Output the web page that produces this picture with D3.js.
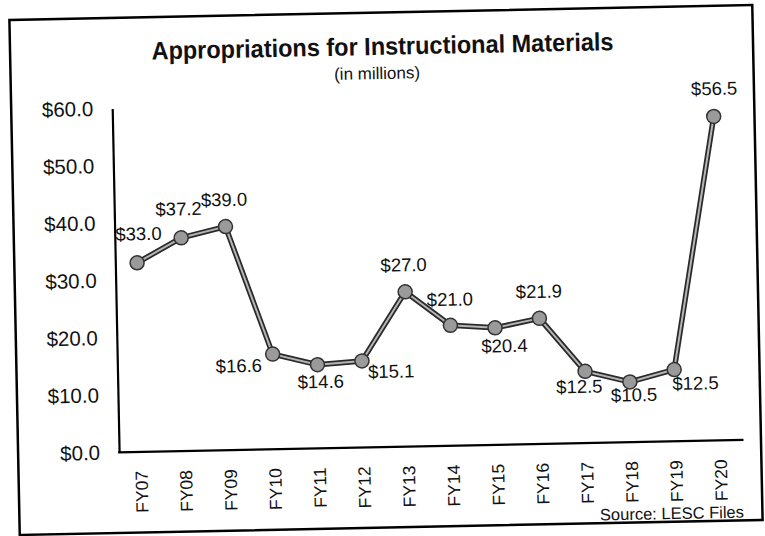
<!DOCTYPE html>
<html>
<head>
<meta charset="utf-8">
<script src="https://cdn.jsdelivr.net/npm/d3@7"></script>
<style>
  html, body { margin: 0; padding: 0; background: #fff; }
  svg { display: block; }
  text { font-family: "Liberation Sans", Arial, sans-serif; fill: #111; }
</style>
</head>
<body>
<svg id="chart" width="765" height="536"></svg>
<script>
// ---- data ----
const categories = ["FY07","FY08","FY09","FY10","FY11","FY12","FY13","FY14","FY15","FY16","FY17","FY18","FY19","FY20"];
const values = [33.0, 37.2, 39.0, 16.6, 14.6, 15.1, 27.0, 21.0, 20.4, 21.9, 12.5, 10.5, 12.5, 56.5];
const yTicks = [0, 10, 20, 30, 40, 50, 60];
const titleText = "Appropriations for Instructional Materials";
const subtitleText = "(in millions)";
const sourceText = "Source: LESC Files";

// ---- layout (label offsets relative to each point, in px) ----
const labelOffsets = [[2,-29],[-2,-29],[-1,-27],[-34,11],[3,17],[29,11],[-1,-27],[0,-26],[9,18],[0,-27],[-6,15],[4,13],[21,14],[1,-28]];

const svg = d3.select("#chart");
svg.append("rect").attr("width", 765).attr("height", 536).attr("fill", "#fff");

// the scanned original is tilted slightly
const g = svg.append("g").attr("transform", "rotate(-1.15, 386, 270)");

// frame
g.append("rect")
  .attr("x", 14.5).attr("y", 12.5).attr("width", 743).attr("height", 515)
  .attr("fill", "none").attr("stroke", "#000").attr("stroke-width", 2.5);

const x = d3.scaleBand().domain(categories).range([115, 739]).paddingInner(0).paddingOuter(0);
const y = d3.scaleLinear().domain([0, 60]).range([447, 103]);
const cx = d => x(d) + x.bandwidth() / 2;

// y axis
const yAxis = g.append("g").attr("transform", "translate(115.5,0)")
  .call(d3.axisLeft(y).tickValues(yTicks).tickSize(0).tickSizeOuter(0).tickPadding(19)
        .tickFormat(d => "$" + d.toFixed(1)));
yAxis.select(".domain").attr("stroke", "#000").attr("stroke-width", 2.2);
yAxis.selectAll("text").style("font-size", "20.5px").style("font-family", "Liberation Sans, Arial, sans-serif").attr("fill", "#111");

// x axis
const xAxis = g.append("g").attr("transform", "translate(0,447)")
  .call(d3.axisBottom(x).tickSize(0).tickSizeOuter(0));
xAxis.select(".domain").remove();
xAxis.selectAll("text")
  .attr("transform", "rotate(-90)")
  .attr("x", -19).attr("y", 0).attr("dy", "0.36em")
  .style("text-anchor", "end")
  .style("font-size", "17.5px").style("font-family", "Liberation Sans, Arial, sans-serif").attr("fill", "#111");
g.append("line").attr("x1", 114.5).attr("x2", 740).attr("y1", 447).attr("y2", 447)
  .attr("stroke", "#000").attr("stroke-width", 2.2);

// line
const line = d3.line().x((d, i) => cx(categories[i])).y(d => y(d));
g.append("path").datum(values).attr("d", line)
  .attr("fill", "none").attr("stroke", "#2a2a2a").attr("stroke-width", 5.5).attr("stroke-linejoin", "round");
g.append("path").datum(values).attr("d", line)
  .attr("fill", "none").attr("stroke", "#b5b5b5").attr("stroke-width", 2).attr("stroke-linejoin", "round");

// markers
g.selectAll("circle.pt").data(values).enter().append("circle")
  .attr("class", "pt")
  .attr("cx", (d, i) => cx(categories[i])).attr("cy", d => y(d)).attr("r", 7)
  .attr("fill", "#9a9a9a").attr("stroke", "#333").attr("stroke-width", 1.5);

// data labels
g.selectAll("text.lbl").data(values).enter().append("text")
  .attr("class", "lbl")
  .attr("x", (d, i) => cx(categories[i]) + labelOffsets[i][0])
  .attr("y", (d, i) => y(d) + labelOffsets[i][1])
  .attr("dy", "0.35em")
  .attr("text-anchor", "middle")
  .style("font-size", "18.5px")
  .text(d => "$" + d.toFixed(1));

// titles
g.append("text").attr("x", 387).attr("y", 46).attr("dy", "0.35em")
  .attr("text-anchor", "middle")
  .attr("textLength", 462).attr("lengthAdjust", "spacingAndGlyphs")
  .style("font-size", "25px").style("font-weight", "bold")
  .style("font-family", "'Liberation Sans Narrow', 'Liberation Sans', Arial, sans-serif")
  .text(titleText);
g.append("text").attr("x", 381).attr("y", 73).attr("dy", "0.35em")
  .attr("text-anchor", "middle")
  .style("font-size", "17px")
  .text(subtitleText);

// source
g.append("text").attr("x", 739).attr("y", 519).attr("dy", "0.35em")
  .attr("text-anchor", "end")
  .style("font-size", "16.5px")
  .text(sourceText);
</script>
</body>
</html>
